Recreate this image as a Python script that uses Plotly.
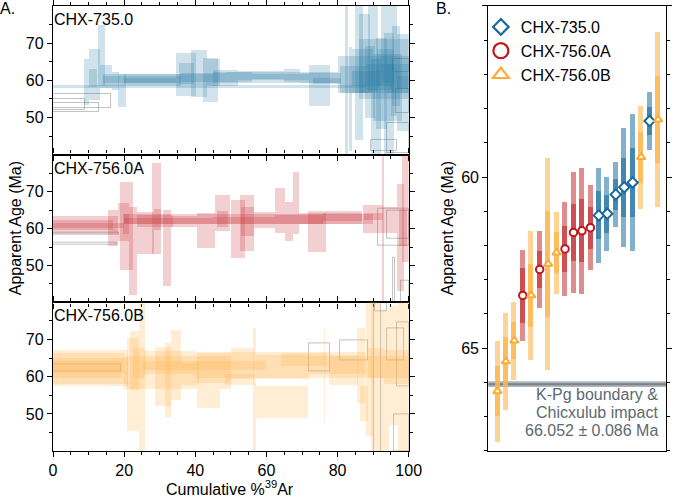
import plotly.graph_objects as go

FONT = "Liberation Sans, Arial, Helvetica, sans-serif"
W, H = 685, 497

# ---------------- Panel A: step-heating spectra ----------------
# each step: start / end cumulative %39Ar, apparent age (Ma), 2-sigma error (Ma)
blue_x0 = [0, 8.8, 10.2, 10.2, 12.6, 13.1, 16.6, 18.4, 14, 14, 20, 34.6, 35.5, 38.7, 42.3, 43.2, 36, 45, 49, 52,
           56, 65, 65, 69.5, 72, 73, 80.8, 82.2, 83.3, 85, 85.9, 87.7, 88.6, 89.5, 90.9, 92.2, 93.1, 95, 95.4,
           96.8, 96.8, 84, 88, 20, 45, 80, 86, 90, 84, 91, 94]
blue_x1 = [88, 10.2, 13.1, 12.3, 14.5, 16.6, 18.6, 20.6, 36, 36, 34.6, 40.1, 39.6, 43.2, 46.4, 46.9, 49, 52, 56, 65,
           65, 69.5, 72, 81, 78, 81, 88, 83.0, 84.2, 87.2, 89.1, 90.4, 91.3, 92.2, 94, 95, 95.8, 96.8, 97.7,
           100, 100, 92, 96, 45, 80, 100, 100, 98, 90, 96, 100]
blue_age = [58.4, 59.6, 61.5, 60.6, 66.7, 61.0, 59.8, 57.3, 60.1, 60.3, 60.0, 61.6, 61.8, 61.8, 60.2, 62.1, 60.7,
            60.7, 60.9, 61.2, 61.0, 61.3, 60.9, 60.6, 58.5, 59.9, 60.2, 60.0, 55.0, 62.0, 67.3, 59.6, 68.4, 52.9,
            59.2, 70.0, 56.4, 66.0, 63.9, 59.5, 59.5, 60.5, 61.0, 60.2, 60.8, 61.5, 63.0, 58.0, 62.5, 63.5, 60.5]
blue_err = [0.35, 6.2, 6.8, 2.5, 8.2, 3.0, 2.4, 4.5, 1.7, 1.0, 0.7, 5.8, 2.9, 6.3, 5.9, 3.6, 1.2, 2.2, 1.4, 1.2,
            0.6, 1.8, 0.7, 1.3, 5.5, 0.8, 3.6, 30, 14, 18, 10.6, 9.6, 11.6, 12.9, 12.3, 10.7, 16.4, 15.6, 10.8,
            13, 1.8, 2.0, 3.5, 1.4, 1.5, 5.0, 8.0, 9.0, 6.0, 5.0, 4.0]
blue_ex_x0 = [0, 0, 0, 95.5, 96.5, 94, 89.5]
blue_ex_x1 = [16.3, 12.9, 9, 100, 100, 100, 96.8]
blue_ex_age = [54.4, 52.8, 53.5, 64.0, 54.5, 44.5, 42.5]
blue_ex_err = [1.8, 1.2, 1.6, 1.8, 3.2, 4.0, 1.5]

red_x0 = [0, 0, 0, 15.6, 18.2, 18.9, 19.6, 21.4, 23.7, 23.7, 27.8, 28.4, 30.8, 33.3, 20, 40.6, 45.6, 46, 50, 52.5,
          52.9, 45, 56.6, 62.5, 65.3, 67.4, 62.5, 69.2, 71.7, 71.7, 76, 87.2, 87.5, 92.6, 92.7, 96.8, 98.2, 97.3,
          20]
red_x1 = [18.2, 17, 20, 18.2, 21.4, 22.6, 21.4, 23.7, 28.3, 33.8, 30.5, 30.5, 33.3, 40.6, 45, 45.6, 49.7, 49.3,
          53.9, 56.6, 56.6, 62.5, 62.5, 65.3, 67.6, 69.2, 76, 71.7, 76.9, 87, 87, 92.7, 92.7, 93.0, 96.8, 98.6,
          100, 99.5, 90]
red_age = [61.0, 61.1, 60.9, 60.3, 61.9, 60.8, 61.3, 54.0, 58.9, 62.2, 65.5, 62.5, 54.9, 62.0, 62.1, 59.6, 64.3,
           62.7, 59.9, 61.6, 62.0, 62.3, 62.3, 65.0, 62.0, 66.9, 62.6, 62.8, 59.0, 63.0, 63.2, 62.7, 63.4, 60.0,
           62.5, 57.7, 66.0, 60.3, 62.6]
red_err = [2.4, 1.3, 0.7, 4.9, 5.2, 12, 2.7, 11.8, 5.6, 1.6, 12.2, 2.9, 10.3, 1.6, 0.8, 4.7, 4.9, 2.2, 7.9, 7.6,
           4.0, 1.0, 2.2, 6.0, 5.3, 8.4, 1.2, 1.5, 5.4, 1.8, 1.0, 3.8, 1.0, 25, 3.5, 14.5, 15, 5.0, 1.3]
red_ex_x0 = [0, 0, 91.5, 94, 95.5, 97.8]
red_ex_x1 = [18.5, 18, 100, 100, 96.2, 100]
red_ex_age = [58.6, 55.9, 60.4, 61.0, 45.0, 43.0]
red_ex_err = [0.2, 0.2, 5.1, 3.8, 7.0, 3.0]

orng_x0 = [0, 0, 0, 0, 20.9, 24.1, 21.6, 22.5, 25.5, 28.7, 31.5, 33.3, 36, 40.6, 40.6, 48.4, 50, 56.1, 57, 57, 64,
           76.1, 72, 77.5, 85.4, 86.3, 88, 89.5, 92, 94.5, 97, 88.5, 93, 25, 20, 40, 72]
orng_x1 = [21, 20, 19.5, 21, 24.1, 25.8, 24.1, 25.8, 40, 33.3, 33.3, 36, 41, 47, 50, 56.6, 56.6, 57, 71.7, 72, 77,
           76.6, 88, 85.8, 87.6, 88.6, 90, 92, 94.5, 97, 100, 93, 100, 60, 50, 72, 100]
orng_age = [62.2, 63.6, 61.8, 61.5, 57.8, 60.0, 64.3, 63.5, 63.6, 59.9, 59.1, 63.1, 60.7, 54.0, 62.2, 59.2, 63.4,
            56.5, 53.0, 62.5, 64.6, 60.5, 63.5, 61.8, 62.9, 52.6, 62.0, 60.0, 58.0, 63.0, 60.0, 63.5, 62.5, 62.8,
            61.0, 63.0, 62.5]
orng_err = [4.9, 2.6, 2.2, 3.5, 12.6, 22, 7.9, 4.0, 3.1, 7.9, 9.9, 9.4, 2.9, 2.5, 4.0, 1.5, 4.2, 16.6, 4.3, 3.3,
            1.8, 12.5, 3.0, 4.0, 10.1, 4.7, 18, 25, 20, 16, 22, 4.0, 4.5, 1.2, 4.5, 3.5, 3.0]
orng_ex_x0 = [0, 72, 80.8, 90.2, 94, 96.8, 96, 90.5]
orng_ex_x1 = [19, 77.8, 88.6, 92.2, 98.6, 100, 100, 94]
orng_ex_age = [62.3, 65.2, 67.2, 60.0, 68.7, 66.0, 45.0, 79.0]
orng_ex_err = [0.9, 3.8, 2.7, 25, 4.3, 8.5, 5.0, 1.5]

# ---------------- Panel B: ranked weighted mean ages ----------------
rank_sample = ["CHX-756.0B", "CHX-756.0B", "CHX-756.0B", "CHX-756.0A", "CHX-756.0B", "CHX-756.0A",
               "CHX-756.0B", "CHX-756.0B", "CHX-756.0A", "CHX-756.0A", "CHX-756.0A", "CHX-756.0A",
               "CHX-735.0", "CHX-735.0", "CHX-735.0", "CHX-735.0", "CHX-735.0", "CHX-756.0B",
               "CHX-735.0", "CHX-756.0B"]
rank_age = [66.26, 65.39, 64.78, 63.46, 63.46, 62.70, 62.54, 62.21, 62.10, 61.62, 61.57, 61.48,
            61.12, 61.07, 60.51, 60.30, 60.16, 59.42, 58.36, 58.32]
rank_err2 = [1.48, 1.42, 1.14, 1.33, 1.88, 1.13, 3.10, 1.20, 1.37, 1.77, 1.85, 1.24,
             1.40, 1.08, 0.96, 1.73, 2.00, 1.50, 0.84, 2.55]
rank_err1 = [0.73, 0.73, 0.55, 0.80, 0.93, 0.55, 1.55, 0.60, 0.67, 0.84, 0.92, 0.61,
             0.70, 0.55, 0.46, 0.87, 1.00, 0.75, 0.42, 1.26]

KPG_AGE = 66.052
KPG_ERR = 0.086

samples = ["CHX-735.0", "CHX-756.0A", "CHX-756.0B"]
base_rgb = {"CHX-735.0": (42, 121, 166), "CHX-756.0A": (200, 56, 60), "CHX-756.0B": (253, 181, 74)}
edge_col = {"CHX-735.0": "#1b6a9b", "CHX-756.0A": "#c0161d", "CHX-756.0B": "#f9ac37"}
symbols = {"CHX-735.0": "diamond", "CHX-756.0A": "circle", "CHX-756.0B": "triangle-up"}
msize = {"CHX-735.0": 8, "CHX-756.0A": 7.5, "CHX-756.0B": 7.5}
lsize = {"CHX-735.0": 12, "CHX-756.0A": 15, "CHX-756.0B": 14}


def rgba(rgb, a):
    return "rgba(%d,%d,%d,%.3f)" % (rgb[0], rgb[1], rgb[2], a)


def step_bars(x0, x1, age, err, xa, ya, fill, line=None):
    xc = [(a + b) / 2 for a, b in zip(x0, x1)]
    w = [b - a for a, b in zip(x0, x1)]
    base = [m - e for m, e in zip(age, err)]
    h = [2 * e for e in err]
    return go.Bar(x=xc, y=h, base=base, width=w, xaxis=xa, yaxis=ya,
                  marker=dict(color=fill, line=dict(color=line if line else "rgba(0,0,0,0)",
                                                    width=1 if line else 0)),
                  showlegend=False, hoverinfo="skip")


fig = go.Figure()

panelA = [
    ("x", "y", blue_x0, blue_x1, blue_age, blue_err, blue_ex_x0, blue_ex_x1, blue_ex_age, blue_ex_err,
     base_rgb["CHX-735.0"], 0.22),
    ("x2", "y2", red_x0, red_x1, red_age, red_err, red_ex_x0, red_ex_x1, red_ex_age, red_ex_err,
     base_rgb["CHX-756.0A"], 0.24),
    ("x3", "y3", orng_x0, orng_x1, orng_age, orng_err, orng_ex_x0, orng_ex_x1, orng_ex_age, orng_ex_err,
     base_rgb["CHX-756.0B"], 0.24),
]
for xa, ya, x0, x1, ag, er, ex0, ex1, eag, eer, rgb, alpha in panelA:
    fig.add_trace(step_bars(ex0, ex1, eag, eer, xa, ya, "rgba(0,0,0,0)", "rgba(120,120,120,0.45)"))
    fig.add_trace(step_bars(x0, x1, ag, er, xa, ya, rgba(rgb, alpha)))

# Panel B bars and markers
idx = list(range(len(rank_age)))
for s in samples:
    ii = [i for i in idx if rank_sample[i] == s]
    a = [rank_age[i] for i in ii]
    e2 = [rank_err2[i] for i in ii]
    e1 = [rank_err1[i] for i in ii]
    fig.add_trace(go.Bar(x=ii, y=[2 * v for v in e2], base=[m - v for m, v in zip(a, e2)], width=0.6,
                         xaxis="x4", yaxis="y4", marker=dict(color=rgba(base_rgb[s], 0.58), line=dict(width=0)),
                         showlegend=False, hoverinfo="skip"))
    fig.add_trace(go.Bar(x=ii, y=[2 * v for v in e1], base=[m - v for m, v in zip(a, e1)], width=0.6,
                         xaxis="x4", yaxis="y4", marker=dict(color=rgba(base_rgb[s], 0.72), line=dict(width=0)),
                         showlegend=False, hoverinfo="skip"))
for s in samples:
    ii = [i for i in idx if rank_sample[i] == s]
    a = [rank_age[i] for i in ii]
    fig.add_trace(go.Scatter(x=ii, y=a, mode="markers", xaxis="x4", yaxis="y4", showlegend=False,
                             marker=dict(symbol=symbols[s], size=msize[s], color="white",
                                         line=dict(color=edge_col[s], width=2)), hoverinfo="skip"))
for s in samples:
    fig.add_trace(go.Scatter(x=[None], y=[None], mode="markers", name=s, xaxis="x4", yaxis="y4",
                             marker=dict(symbol=symbols[s], size=lsize[s], color="white",
                                         line=dict(color=edge_col[s], width=2.2))))

# ---------------- layout ----------------
def fx(p):
    return p / W


def fy(p):
    return 1 - p / H


xA = [fx(50.3), fx(415)]
yA = [[fy(154), fy(5)], [fy(302), fy(154)], [fy(451), fy(302)]]
xB = [fx(496.7), fx(679)]
yB = [fy(450.7), fy(5)]

axis_common = dict(showline=True, linecolor="black", linewidth=1.4, mirror="allticks", ticks="outside",
                   ticklen=5, tickwidth=1.3, tickcolor="black", showgrid=False, zeroline=False,
                   tickfont=dict(family=FONT, size=16, color="black"))

lay = dict(width=W, height=H, margin=dict(l=0, r=0, t=0, b=0), paper_bgcolor="white", plot_bgcolor="white",
           barmode="overlay", bargap=0, font=dict(family=FONT, size=16, color="black"))
for k, (xn, yn) in enumerate([("xaxis", "yaxis"), ("xaxis2", "yaxis2"), ("xaxis3", "yaxis3")]):
    anchor_y = "y" if k == 0 else "y%d" % (k + 1)
    anchor_x = "x" if k == 0 else "x%d" % (k + 1)
    lay[xn] = dict(axis_common, domain=xA, range=[0, 100], anchor=anchor_y, tickvals=[0, 20, 40, 60, 80, 100],
                   showticklabels=(k == 2),
                   minor=dict(dtick=5, ticklen=3, tickwidth=1.1, tickcolor="black", ticks="outside"))
    lay[yn] = dict(axis_common, domain=yA[k], range=[40, 80], anchor=anchor_x, tickvals=[50, 60, 70],
                   minor=dict(tickvals=[45, 55, 65, 75], ticklen=3, tickwidth=1.1, tickcolor="black",
                              ticks="outside"))
lay["xaxis4"] = dict(showline=True, linecolor="black", linewidth=1.4, mirror=True, ticks="", showticklabels=False,
                     showgrid=False, zeroline=False, domain=xB, range=[-1.07, 19.96], anchor="y4")
lay["yaxis4"] = dict(axis_common, domain=yB, range=[68, 55], anchor="x4", tickvals=[55, 60, 65],
                     minor=dict(dtick=1, ticklen=3, tickwidth=1.1, tickcolor="black", ticks="outside"))
lay["legend"] = dict(x=fx(489), y=fy(9), xanchor="left", yanchor="top", bgcolor="rgba(0,0,0,0)",
                     font=dict(family=FONT, size=16, color="black"), itemwidth=30, tracegroupgap=0)
fig.update_layout(**lay)

# K-Pg boundary band
fig.add_shape(type="rect", xref="x4 domain", yref="y4", x0=0, x1=1, y0=KPG_AGE - KPG_ERR, y1=KPG_AGE + KPG_ERR,
              fillcolor="#aeb4ba", line=dict(width=0), layer="below")
fig.add_shape(type="line", xref="x4 domain", yref="y4", x0=0, x1=1, y0=KPG_AGE, y1=KPG_AGE,
              line=dict(color="#7a838a", width=2), layer="below")

ann = []
def note(text, x, y, size=16, xanchor="left", yanchor="middle", color="black", angle=0):
    ann.append(dict(text=text, x=x, y=y, xref="paper", yref="paper", xanchor=xanchor, yanchor=yanchor,
                    align=xanchor if xanchor != "center" else "center",
                    showarrow=False, textangle=angle, font=dict(family=FONT, size=size, color=color)))

note("A.", fx(-6), fy(7.5))
note("B.", fx(441), fy(7.5))
note("CHX-735.0", fx(49), fy(18.5))
note("CHX-756.0A", fx(49), fy(167.5))
note("CHX-756.0B", fx(49), fy(315.5))
note("Apparent Age (Ma)", fx(12), fy(228), xanchor="center", angle=-90)
note("Apparent Age (Ma)", fx(455), fy(228), xanchor="center", angle=-90)
note("Cumulative %<sup>39</sup>Ar", fx(232), fy(488), xanchor="center")
kcol = "#5e6971"
note("K-Pg boundary &", fx(544), fy(394), color=kcol)
note("Chicxulub impact", fx(544), fy(412), color=kcol)
note("%.3f ± %.3f Ma" % (KPG_AGE, KPG_ERR), fx(532), fy(430), color=kcol)
fig.update_layout(annotations=ann)

fig.write_html("out.html")
